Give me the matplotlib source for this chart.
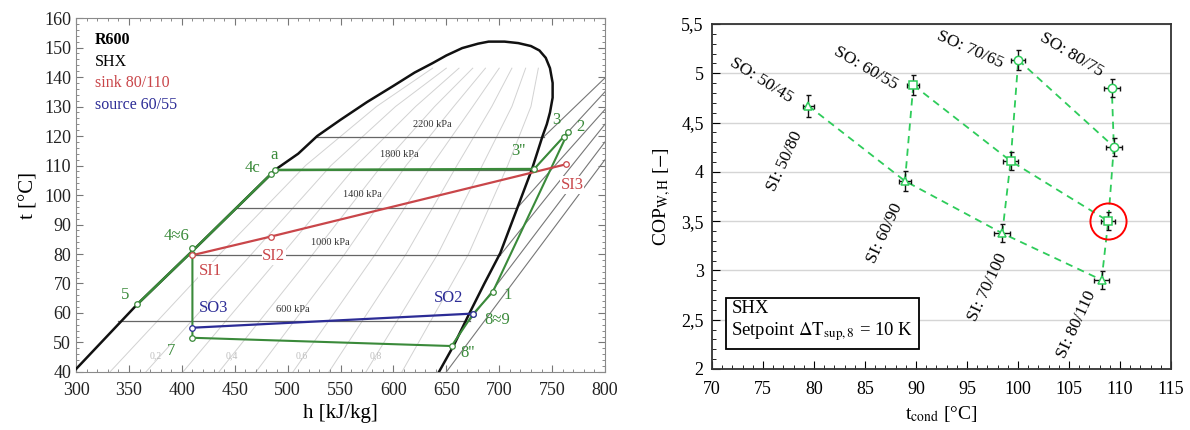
import matplotlib.pyplot as plt
from matplotlib.ticker import MultipleLocator, FuncFormatter

plt.rcParams['font.family'] = ['Liberation Serif', 'DejaVu Serif']
plt.rcParams['mathtext.fontset'] = 'stix'

# ---------------- left: t-h diagram of R600 ----------------
dome_h = [300, 358, 410, 484, 488, 510, 528, 550, 575, 600, 620, 637, 650, 665, 680, 690,
          705, 718, 730, 738, 744, 748, 750.5, 750.5, 748, 745, 741, 731, 716.5, 701,
          686, 672, 657, 643]
dome_t = [41, 63, 81, 107, 108.5, 114, 120, 125.5, 131.5, 137, 141.5, 144.7, 147.3, 149.8,
          151.3, 152, 152, 151.5, 150.5, 149, 146.5, 143, 138, 133, 128, 124, 120, 108.8,
          95, 80.3, 70, 60, 49, 40]

# two-phase isobars (horizontal) [kPa, t, h_liq, h_vap]
iso_p = [2200, 1800, 1400, 1000, 600]
iso_t = [119.7, 108.5, 95.6, 79.6, 57.4]
iso_h0 = [528, 488, 452, 408, 340]
iso_h1 = [742, 732, 717, 701, 672]
iso_lbl_h = [637, 606, 571, 540, 505]
iso_lbl_t = [124, 113.6, 100.3, 83.8, 61.3]

# superheated isobars (start on vapour line, end at right frame)
sh_h0 = [650, 672, 701, 717, 732, 742]
sh_t0 = [40, 57.4, 79.6, 95.6, 108.5, 119.7]
sh_h1 = [800, 800, 800, 800, 800, 800]
sh_t1 = [112, 118, 124, 129, 135, 139.7]

# vapour quality lines (h at t = 40, 80, 110, 130, 143)
q_t = [40, 80, 110, 130, 143]
q_lines = [
    [332, 436, 517, 584, 637],
    [366, 466, 541, 602, 650],
    [401, 495, 565, 621, 662],
    [435, 524, 589, 639, 675],
    [470, 554, 612, 657, 687],
    [505, 583, 636, 675, 700],
    [539, 612, 660, 693, 712],
    [574, 642, 684, 712, 725],
    [608, 671, 708, 730, 737],
]
q_labels = ['0,2', '0,4', '0,6', '0,8']
q_lbl_h = [375, 447, 513, 583]

# cycle (green)
liq_h = [358, 410, 484]          # 5 -> 4~6 -> 4c
liq_t = [63, 81, 107]
cond_h = [488, 733]              # a -> 3''
cond_t = [108.5, 108.8]
hp_h = [733, 761, 765]           # 3'' -> 3 -> 2
hp_t = [108.8, 119.8, 121.2]
low_h = [410, 410, 655, 675, 694, 765]   # 6 -> 7 -> 8'' -> 8~9 -> 1 -> 2
low_t = [80, 51.6, 48.8, 59.5, 67.2, 121.2]
cyc_pt_h = [358, 410, 410, 484, 488, 733, 761, 765, 694, 675, 655, 410]
cyc_pt_t = [63, 82, 80, 107, 108.5, 108.8, 119.8, 121.2, 67.2, 59.5, 48.8, 51.6]
cyc_lbl = ['5', '4≈6', '4c', 'a', "3''", '3', '2', '1', '8≈9', "8''", '7']
cyc_lbl_h = [346, 395, 467, 487, 718, 754, 777, 708, 698, 670, 390]
cyc_lbl_t = [66, 86, 109, 113.5, 115, 125.4, 123, 66, 57.6, 46.5, 47]

# sink (red) and source (blue)
sink_h = [410, 484, 763]
sink_t = [79.6, 85.9, 110.4]
sink_lbl = ['SI1', 'SI2', 'SI3']
sink_lbl_h = [427, 487, 769]
sink_lbl_t = [74.3, 79.3, 103.4]
src_h = [409.5, 675]
src_t = [55, 59.8]
src_lbl = ['SO3', 'SO2']
src_lbl_h = [430, 652]
src_lbl_t = [61.7, 65]

# ---------------- right: COP vs condensing temperature ----------------
t_cond = [79.44, 88.92, 98.46, 108.2, 89.74, 99.28, 108.85, 100.03, 109.4, 109.2]
cop = [4.671, 3.907, 3.377, 2.903, 4.88, 4.11, 3.50, 5.135, 4.255, 4.854]
t_err = [0.55, 0.6, 0.8, 0.75, 0.6, 0.7, 0.7, 0.7, 0.8, 0.8]
cop_err = [0.11, 0.1, 0.09, 0.09, 0.1, 0.09, 0.09, 0.1, 0.09, 0.09]
src_group = ['50/45', '50/45', '50/45', '50/45', '60/55', '60/55', '60/55', '70/65', '70/65', '80/75']
sink_group = ['50/80', '60/90', '70/100', '80/110', '60/90', '70/100', '80/110', '70/100', '80/110', '80/110']
group_marker = {'50/45': '^', '60/55': 's', '70/65': 'o', '80/75': 'o'}
so_order = ['50/45', '60/55', '70/65', '80/75']
si_order = ['50/80', '60/90', '70/100', '80/110']
so_lbl_x = [74.8, 85.1, 95.3, 105.2]
so_lbl_y = [4.93, 5.05, 5.24, 5.19]
so_lbl_rot = [-32, -30, -24, -31]
si_lbl_x = [77.2, 87.0, 97.0, 105.8]
si_lbl_y = [4.11, 3.38, 2.83, 2.45]
highlight = (108.85, 3.50)

green = '#3a8a3a'
red = '#c9464a'
blue = '#2c2c96'
lgreen = '#2ecc5a'

fig = plt.figure(figsize=(11.9, 4.3), dpi=100)
ax1 = fig.add_axes([0.0639, 0.1349, 0.4445, 0.8232])
ax2 = fig.add_axes([0.5983, 0.1419, 0.3857, 0.8023])

# ---- left panel
for hq in q_lines:
    ax1.plot(hq, q_t, color='#d2d2d2', lw=0.7, zorder=1)
for lbl, h in zip(q_labels, q_lbl_h):
    ax1.text(h, 45.5, lbl, color='#bdbdbd', fontsize=7, ha='center', va='center')
for h0, t0, h1, t1 in zip(sh_h0, sh_t0, sh_h1, sh_t1):
    ax1.plot([h0, h1], [t0, t1], color='#777777', lw=0.8, zorder=1)
for p, t, h0, h1 in zip(iso_p, iso_t, iso_h0, iso_h1):
    ax1.plot([h0, h1], [t, t], color='#666666', lw=0.9, zorder=2)
for p, h, t in zip(iso_p, iso_lbl_h, iso_lbl_t):
    ax1.text(h, t, f'{p} kPa', fontsize=7.5, color='#333333', ha='center', va='center')

ax1.plot(dome_h, dome_t, color='#111111', lw=1.8, zorder=3)
ax1.plot(liq_h, liq_t, color=green, lw=1.8, zorder=4)
ax1.plot(cond_h, cond_t, color=green, lw=1.8, zorder=4)
ax1.plot(hp_h, hp_t, color=green, lw=1.5, zorder=4)
ax1.plot(low_h, low_t, color=green, lw=1.5, zorder=4)
ax1.plot(sink_h, sink_t, color=red, lw=1.6, zorder=5)
ax1.plot(src_h, src_t, color=blue, lw=1.6, zorder=5)
ax1.plot(cyc_pt_h, cyc_pt_t, 'o', ms=4, mfc='white', mec=green, mew=0.9, zorder=6)
ax1.plot(sink_h, sink_t, 'o', ms=4, mfc='white', mec=red, mew=0.9, zorder=6)
ax1.plot(src_h, src_t, 'o', ms=4, mfc='white', mec=blue, mew=0.9, zorder=6)

for s, h, t in zip(cyc_lbl, cyc_lbl_h, cyc_lbl_t):
    ax1.text(h, t, s, color=green, fontsize=12, ha='center', va='center', zorder=7)
for s, h, t in zip(sink_lbl, sink_lbl_h, sink_lbl_t):
    ax1.text(h, t, s, color=red, fontsize=12, ha='center', va='center', zorder=7,
             bbox=dict(fc='white', ec='none', pad=0.5))
for s, h, t in zip(src_lbl, src_lbl_h, src_lbl_t):
    ax1.text(h, t, s, color=blue, fontsize=12, ha='center', va='center', zorder=7)

ax1.text(318, 152.5, 'R600', fontsize=11.5, fontweight='bold', va='center')
ax1.text(318, 145.2, 'SHX', fontsize=11.5, va='center')
ax1.text(318, 138, 'sink 80/110', fontsize=11.5, color=red, va='center')
ax1.text(318, 130.5, 'source 60/55', fontsize=11.5, color=blue, va='center')

ax1.set_xlim(300, 800)
ax1.set_ylim(40, 160)
ax1.xaxis.set_major_locator(MultipleLocator(50))
ax1.xaxis.set_minor_locator(MultipleLocator(10))
ax1.yaxis.set_major_locator(MultipleLocator(10))
ax1.yaxis.set_minor_locator(MultipleLocator(2))
ax1.tick_params(which='both', direction='in', top=True, right=True, colors='#777777',
                labelcolor='#222222', labelsize=13)
ax1.tick_params(which='major', length=5)
ax1.tick_params(which='minor', length=2.5)
ax1.tick_params(axis='x', pad=7)
for sp in ax1.spines.values():
    sp.set_color('#8a8a8a')
ax1.set_xlabel('h [kJ/kg]', fontsize=15, labelpad=4)
ax1.set_ylabel('t [°C]', fontsize=15, labelpad=4)

# ---- right panel
ax2.grid(axis='y', color='#d5d5d5', lw=1)
ax2.set_axisbelow(True)
for so in so_order:
    xs = [x for x, g in zip(t_cond, src_group) if g == so]
    ys = [y for y, g in zip(cop, src_group) if g == so]
    ax2.plot(xs, ys, ls=(0, (4, 3)), color=lgreen, lw=1.3, zorder=2)
for si in si_order:
    pts = sorted((y, x) for x, y, g in zip(t_cond, cop, sink_group) if g == si)
    ax2.plot([p[1] for p in pts], [p[0] for p in pts], ls=(0, (4, 3)), color=lgreen,
             lw=1.3, zorder=2)
ax2.errorbar(t_cond, cop, xerr=t_err, yerr=cop_err, fmt='none', ecolor='#111111',
             elinewidth=1, capsize=1.8, capthick=1, zorder=3)
for x, y, g in zip(t_cond, cop, src_group):
    ax2.plot(x, y, marker=group_marker[g], ms=6, mfc='white', mec=lgreen, mew=1.1, zorder=4)
ax2.plot(*highlight, marker='o', ms=26, mfc='none', mec='red', mew=1.4, zorder=5)

for so, x, y, r in zip(so_order, so_lbl_x, so_lbl_y, so_lbl_rot):
    ax2.text(x, y, 'SO: ' + so, rotation=r, fontsize=12.5, ha='center', va='center',
             rotation_mode='anchor')
for si, x, y in zip(si_order, si_lbl_x, si_lbl_y):
    ax2.text(x, y, 'SI: ' + si, rotation=65, fontsize=12.5, ha='center', va='center',
             rotation_mode='anchor')

ax2.text(71.9, 2.26, 'SHX\nSetpoint $\\Delta\\mathrm{T}_{\\mathrm{sup,8}}$ = 10 K',
         fontsize=13.5, va='bottom', ha='left', linespacing=1.25,
         bbox=dict(fc='white', ec='black', lw=1.3, boxstyle='square,pad=0.3'))

ax2.set_xlim(70, 115)
ax2.set_ylim(2, 5.5)
ax2.xaxis.set_major_locator(MultipleLocator(5))
ax2.xaxis.set_minor_locator(MultipleLocator(1))
ax2.yaxis.set_major_locator(MultipleLocator(0.5))
ax2.yaxis.set_minor_locator(MultipleLocator(0.1))
ax2.yaxis.set_major_formatter(FuncFormatter(lambda v, p: f'{v:g}'.replace('.', ',')))
ax2.tick_params(which='both', direction='in', labelsize=13)
ax2.tick_params(which='major', length=6)
ax2.tick_params(which='minor', length=3)
ax2.tick_params(axis='x', pad=9)
ax2.tick_params(axis='y', pad=6)
for sp in ax2.spines.values():
    sp.set_color('#333333')
    sp.set_linewidth(1.3)
ax2.set_xlabel('t$_{\\mathrm{cond}}$ [°C]', fontsize=14, labelpad=4)
ax2.set_ylabel('COP$_{\\mathrm{W,H}}$ [$-$]', fontsize=14, labelpad=6)

fig.savefig('out.png', dpi=100)
